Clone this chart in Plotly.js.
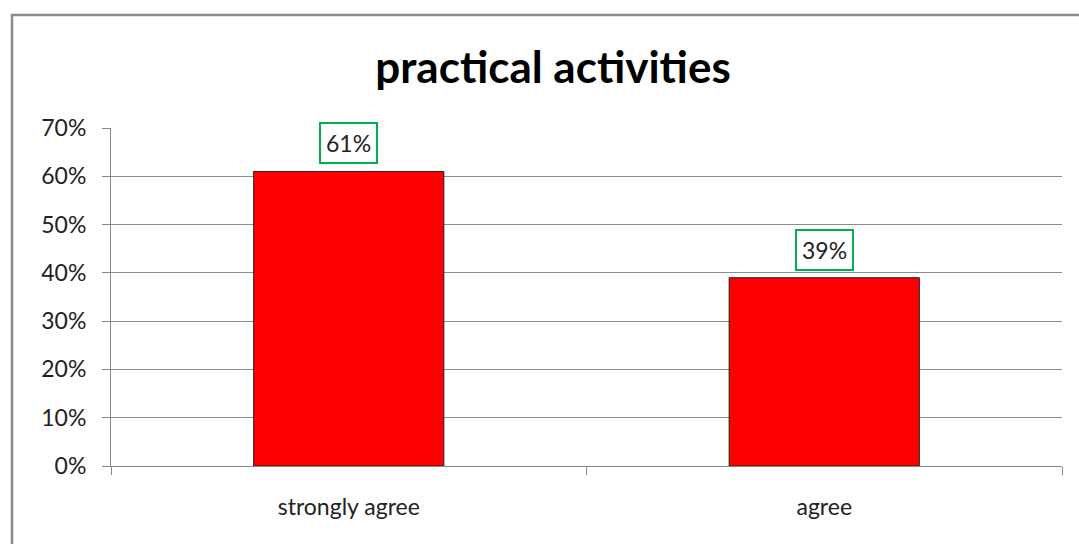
<!DOCTYPE html>
<html>
<head>
<meta charset="utf-8">
<script src="https://cdn.plot.ly/plotly-3.0.1.min.js"></script>
<style>html,body{margin:0;padding:0;background:#fff;}#chart{width:1079px;height:544px;}</style>
</head>
<body>
<div id="chart"></div>
<script>
const categories = ["strongly agree", "agree"];
const values = [0.61, 0.39];
const labels = ["61%", "39%"];
const yTickVals = [0, 0.1, 0.2, 0.3, 0.4, 0.5, 0.6, 0.7];

const FONT = "Lato, 'Open Sans', 'Liberation Sans', sans-serif";

const trace = {
  type: "bar",
  x: categories,
  y: values,
  marker: {color: "#FF0000", line: {color: "#222", width: 1}},
  hoverinfo: "none"
};

const annotations = categories.map((c, i) => ({
  x: c, y: values[i], xref: "x", yref: "y",
  text: labels[i], showarrow: false,
  yanchor: "bottom", yshift: 7,
  font: {family: FONT, size: 23, color: "#222"},
  bordercolor: "#00B050", borderwidth: 2, borderpad: 5,
  bgcolor: "#fff"
}));

const layout = {
  width: 1079, height: 544,
  margin: {l: 111, r: 17, t: 128, b: 78},
  paper_bgcolor: "#fff", plot_bgcolor: "#fff",
  showlegend: false,
  bargap: 0.6,
  title: {text: "<b>practical activities</b>", font: {family: FONT, size: 44, color: "#000"},
          x: 553 / 1079, xanchor: "center", y: 1 - 68/544, yanchor: "middle", xref: "container", yref: "container"},
  xaxis: {
    type: "category", tickson: "boundaries", ticks: "outside", ticklen: 8, tickcolor: "#888",
    showline: true, linecolor: "#888", linewidth: 1, showgrid: false,
    tickfont: {family: FONT, size: 23, color: "#222"}, ticklabelstandoff: 20
  },
  yaxis: {
    range: [0, 0.7], tickvals: yTickVals, tickformat: ".0%",
    ticks: "outside", ticklen: 8, tickcolor: "#888",
    showline: true, linecolor: "#888", linewidth: 1,
    showgrid: true, gridcolor: "#8c8c8c", gridwidth: 1, zeroline: false,
    tickfont: {family: FONT, size: 23, color: "#222"}, ticklabelstandoff: 11
  },
  annotations: annotations,
  shapes: [{
    type: "rect", xref: "paper", yref: "paper",
    x0: (12 - 111) / 951, x1: (1090 - 111) / 951,
    y0: (466 - 560) / 338, y1: (466 - 15) / 338,
    line: {color: "#8a8a8a", width: 2.5}, fillcolor: "rgba(0,0,0,0)", layer: "below"
  }]
};

Plotly.newPlot("chart", [trace], layout, {displayModeBar: false, staticPlot: true});
</script>
</body>
</html>
